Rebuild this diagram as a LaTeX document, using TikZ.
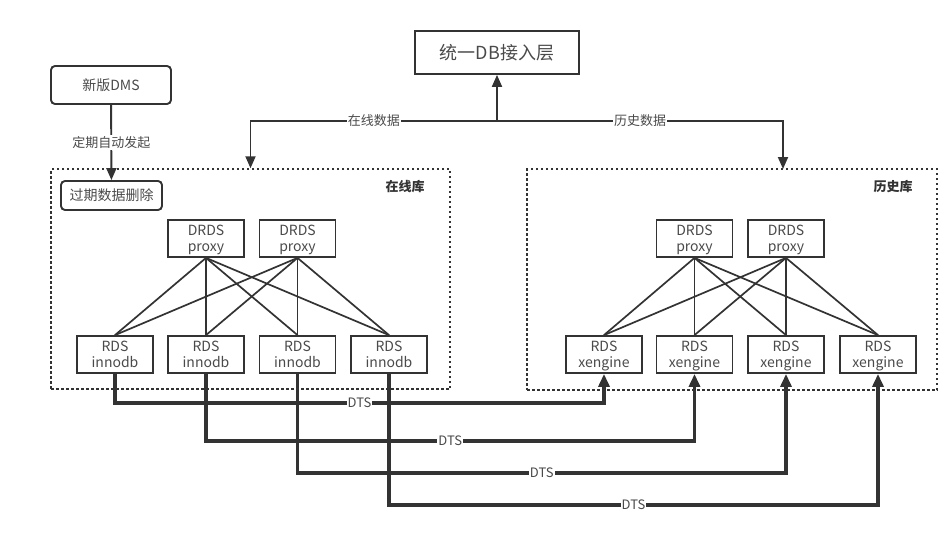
\documentclass[tikz,border=0pt]{standalone}
\usepackage{fontspec}
\setmainfont{Noto Sans CJK SC}
\usetikzlibrary{arrows.meta}

\definecolor{ink}{HTML}{333333}
\definecolor{txt}{HTML}{4A4A4A}

\tikzset{
  box/.style={draw=ink, line width=1.8pt, minimum width=76pt, minimum height=37pt,
    inner sep=0pt, align=center, text=txt, font=\fontsize{14}{15.5}\selectfont},
  stack/.style={box, text depth=0pt},
  rbox/.style={box, rounded corners=4pt, line width=1.9pt},
  zone/.style={draw=ink, line width=1.5pt, dash pattern=on 2.5pt off 2.5pt},
  link/.style={draw=ink, line width=1.7pt},
  flow/.style={draw=ink, line width=1.9pt, -{Triangle[length=12pt,width=10pt]}},
  dts/.style={draw=ink, line width=3.4pt, -{Triangle[length=13pt,width=11pt]}},
  lbl/.style={fill=white, text=txt, inner sep=1pt, font=\fontsize{13}{15}\selectfont},
  title/.style={text=ink, font=\bfseries\fontsize{13}{15}\selectfont}
}

\begin{document}
\begin{tikzpicture}[x=1pt, y=-1pt]
  \useasboundingbox (0,0) rectangle (951,533);

  % access layer and DMS
  \node[box, minimum width=164pt, minimum height=43pt,
    font=\fontsize{18}{20}\selectfont] (db) at (497,52.5) {统一DB接入层};
  \node[rbox, minimum width=120pt, minimum height=38pt] (dms) at (111,85) {新版DMS};

  % online and history zones
  \node[zone, minimum width=399pt, minimum height=220pt] (online) at (250.5,279) {};
  \node[zone, minimum width=410pt, minimum height=221pt] (hist) at (732,279.5) {};
  \node[title] (onlinet) at (405,187) {在线库};
  \node[title] (histt) at (893,187) {历史库};
  \node[rbox, minimum width=101pt, minimum height=29pt] (del) at (111.5,195.5) {过期数据删除};

  % proxies
  \node[stack] (p1) at (206,238.5) {DRDS\\proxy};
  \node[stack] (p2) at (297.5,238.5) {DRDS\\proxy};
  \node[stack] (q1) at (694.5,238.5) {DRDS\\proxy};
  \node[stack] (q2) at (786,238.5) {DRDS\\proxy};

  % storage nodes
  \foreach \n/\xx in {1/115,2/206,3/297.5,4/389}
    \node[stack] (r\n) at (\xx,354.5) {RDS\\innodb};
  \foreach \n/\xx in {1/604,2/694.5,3/786,4/878}
    \node[stack] (x\n) at (\xx,354.5) {RDS\\xengine};

  \foreach \p in {p1,p2}
    \foreach \n in {1,...,4}
      \draw[link] (\p.south) -- (r\n.north);
  \foreach \p in {q1,q2}
    \foreach \n in {1,...,4}
      \draw[link] (\p.south) -- (x\n.north);

  % routing from the access layer
  \coordinate (hub) at (497,121);
  \coordinate (histin) at (783,169);
  \draw[flow] (hub) -- (db.south);
  \draw[flow] (hub) -| node[lbl, pos=0.25] {在线数据} (online.north);
  \draw[flow] (hub) -| node[lbl, pos=0.25] {历史数据} (histin);
  \draw[flow] (dms) -- node[lbl] {定期自动发起} (del);

  % DTS sync
  \foreach \n/\yy in {1/403,2/441,3/473,4/505}
    \draw[dts] (r\n.south) -- (r\n.south |- 0,\yy)
      -- node[lbl] {DTS} (x\n.south |- 0,\yy) -- (x\n.south);
\end{tikzpicture}
\end{document}
